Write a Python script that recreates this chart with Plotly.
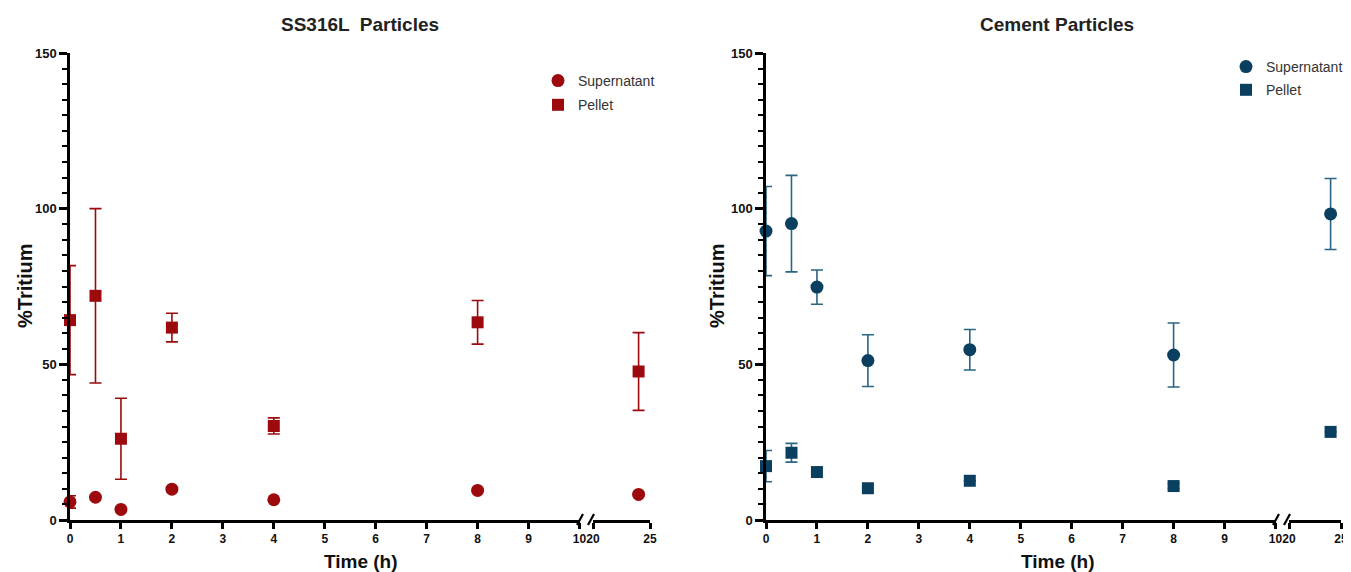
import plotly.graph_objects as go

# ---------------- data ----------------
time_h = [0, 0.5, 1, 2, 4, 8, 24]

ss_super = [5.8, 7.3, 3.4, 9.9, 6.5, 9.5, 8.2]
ss_super_err = [2.0, 0, 0, 0, 0, 0, 0]
ss_pellet = [64.2, 72.0, 26.1, 61.8, 30.2, 63.5, 47.7]
ss_pellet_err = [17.5, 28.0, 13.0, 4.6, 2.6, 7.0, 12.5]

ce_super = [92.8, 95.2, 74.8, 51.2, 54.7, 53.0, 98.3]
ce_super_err = [14.3, 15.5, 5.5, 8.3, 6.5, 10.3, 11.4]
ce_pellet = [17.3, 21.6, 15.4, 10.2, 12.6, 10.9, 28.3]
ce_pellet_err = [5.0, 3.0, 0, 0, 0, 0.8, 0]

seg1_ticks = list(range(0, 11))
seg2_ticks = [20, 25]
y_ticks = [0, 50, 100, 150]

RED = "#9C0A0E"
BLUE = "#0A3F5F"
BLUE_ERR = "#2A6581"

# the page body has an 8px margin: the figure is placed at (8, 8) in the window
OFF = 8
W, H = 1351 - OFF, 572 - OFF

def px(x):
    return (x - OFF) / W

def py(y):
    return 1 - (y - OFF) / H

fig = go.Figure()

def add_series(t, v, e, name, symbol, size, color, ecolor, xa1, xa2, ya, legend, show):
    lo = [(ti, vi, ei) for ti, vi, ei in zip(t, v, e) if ti <= 10]
    hi = [(ti, vi, ei) for ti, vi, ei in zip(t, v, e) if ti >= 20]
    for part, xa, sl in ((lo, xa1, show), (hi, xa2, False)):
        fig.add_trace(go.Scatter(
            x=[p[0] for p in part], y=[p[1] for p in part],
            mode="markers", name=name, legendgroup=name + legend,
            showlegend=sl, legend=legend,
            xaxis=xa, yaxis=ya, cliponaxis=False,
            marker=dict(symbol=symbol, size=size, color=color),
            error_y=dict(type="data", array=[p[2] for p in part], visible=True,
                         color=ecolor, thickness=1.6, width=6),
        ))

add_series(time_h, ss_super, ss_super_err, "Supernatant", "circle", 13, RED, RED, "x", "x2", "y", "legend", True)
add_series(time_h, ss_pellet, ss_pellet_err, "Pellet", "square", 12, RED, RED, "x", "x2", "y", "legend", True)
add_series(time_h, ce_super, ce_super_err, "Supernatant", "circle", 13, BLUE, BLUE_ERR, "x3", "x4", "y2", "legend2", True)
add_series(time_h, ce_pellet, ce_pellet_err, "Pellet", "square", 12, BLUE, BLUE_ERR, "x3", "x4", "y2", "legend2", True)

XTICKFONT = dict(family="Liberation Sans, Arial", size=12, color="#111", weight="bold")
YTICKFONT = dict(family="Liberation Sans, Arial", size=13, color="#111", weight="bold")

def xaxis(dom, rng, ticks, anchor):
    return dict(domain=dom, range=rng, tickvals=ticks, ticktext=[str(t) for t in ticks],
                showline=True, linecolor="black", linewidth=2.5, ticks="outside",
                ticklen=6, tickwidth=2.5, tickcolor="black", showgrid=False, zeroline=False,
                anchor=anchor, tickfont=XTICKFONT, fixedrange=True, automargin=False,
                ticklabeloverflow="allow")

def yaxis(dom, anchor):
    return dict(domain=dom, range=[0, 150], tickvals=y_ticks, showline=True,
                linecolor="black", linewidth=2.5, ticks="outside", ticklen=8, tickwidth=2.5,
                tickcolor="black", showgrid=False, zeroline=False, anchor=anchor,
                tickfont=YTICKFONT, automargin=False, fixedrange=True,
                minor=dict(dtick=5, ticks="outside", ticklen=5, tickwidth=1.5, tickcolor="black"))

ydom = [py(520), py(53)]
L1 = [px(70), px(579.5)]
L2 = [px(593), px(650)]
R1 = [px(766), px(1275.5)]
R2 = [px(1289), px(1341)]

fig.update_layout(
    width=W, height=H,
    margin=dict(l=0, r=0, t=0, b=0, autoexpand=False),
    paper_bgcolor="white", plot_bgcolor="white",
    font=dict(family="Liberation Sans, Arial", color="#222"),
    xaxis=xaxis(L1, [0, 10], seg1_ticks, "y"),
    xaxis2=xaxis(L2, [20, 25], seg2_ticks, "y"),
    xaxis3=xaxis(R1, [0, 10], seg1_ticks, "y2"),
    xaxis4=xaxis(R2, [20, 25], seg2_ticks, "y2"),
    yaxis=yaxis(ydom, "x"),
    yaxis2=yaxis(ydom, "x3"),
    legend=dict(x=px(538), y=py(65), xanchor="left", yanchor="top",
                font=dict(size=14, color="#333"), bgcolor="rgba(0,0,0,0)",
                tracegroupgap=3, traceorder="grouped"),
    legend2=dict(x=px(1226), y=py(51), xanchor="left", yanchor="top",
                 font=dict(size=14, color="#333"), bgcolor="rgba(0,0,0,0)",
                 tracegroupgap=2, traceorder="grouped"),
    showlegend=True,
)

# titles and axis labels
ann = [
    dict(text="<b>SS316L  Particles</b>", x=px(360), y=py(24), font=dict(size=19, color="#222")),
    dict(text="<b>Cement Particles</b>", x=px(1057), y=py(24), font=dict(size=19, color="#222")),
    dict(text="<b>Time (h)</b>", x=px(361), y=py(561), font=dict(size=19, color="#111")),
    dict(text="<b>Time (h)</b>", x=px(1058), y=py(561), font=dict(size=19, color="#111")),
    dict(text="<b>%Tritium</b>", x=px(25), y=py(286), textangle=-90, font=dict(size=20, color="#111")),
    dict(text="<b>%Tritium</b>", x=px(717), y=py(286), textangle=-90, font=dict(size=20, color="#111")),
]
for a in ann:
    fig.add_annotation(xref="paper", yref="paper", showarrow=False,
                       xanchor="center", yanchor="middle", **a)

# axis break marks
for xa in (580, 591, 1276, 1287):
    fig.add_shape(type="line", xref="paper", yref="paper",
                  x0=px(xa - 3), y0=py(525), x1=px(xa + 3), y1=py(514),
                  line=dict(color="black", width=2.2))

fig.write_html("out.html")
